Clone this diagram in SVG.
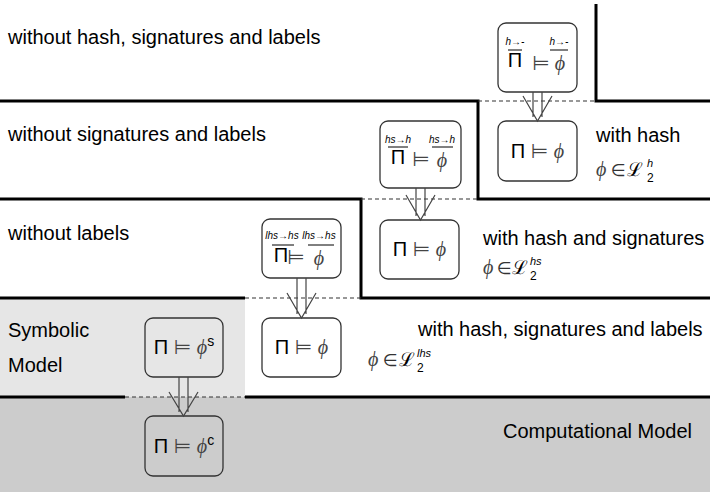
<svg xmlns="http://www.w3.org/2000/svg" width="710" height="492" viewBox="0 0 710 492">
<style>
.lbl{font-family:"Liberation Sans",Arial,sans-serif;font-size:20px;fill:#000}
.thick{stroke:#000;stroke-width:3;fill:none}
.dash{stroke:#333;stroke-width:1.2;stroke-dasharray:4,3;fill:none}
.box{fill:none;stroke:#333;stroke-width:1.3}
.m{font-family:"Liberation Sans",Arial,sans-serif;font-size:20px;fill:#000}
.phi{font-family:"Liberation Serif",serif;font-style:italic;fill:#444}
.ent{font-family:"DejaVu Sans",sans-serif;fill:#444}
.in{font-family:"DejaVu Sans",sans-serif;font-size:17px;fill:#333}
.cal{font-family:"DejaVu Serif",serif;font-size:19px;fill:#000}
.sup{font-family:"Liberation Sans",Arial,sans-serif;font-style:italic;font-size:11px;fill:#000}
.sub{font-family:"Liberation Sans",Arial,sans-serif;font-size:12px;fill:#000}
.tiny{font-family:"Liberation Sans",Arial,sans-serif;font-style:italic;font-size:10px;fill:#000;text-anchor:middle}
.bar{stroke:#000;stroke-width:1}
.arr{stroke:#444;stroke-width:1.2;fill:none}
</style>
<rect x="0" y="298" width="245" height="99" fill="#e6e6e6"/>
<rect x="0" y="397" width="710" height="95" fill="#cccccc"/>
<g id="layers">
<path class="thick" d="M596,4 V101 H710"/>
<path class="thick" d="M0,101 H478 V199 H710"/>
<path class="thick" d="M0,199 H361 V298 H710"/>
<path class="thick" d="M0,298 H245"/>
<path class="thick" d="M0,397 H125 M245,397 H710"/>
<path class="dash" d="M478,101 H596 M361,199 H478 M245,298 H361 M125,397 H245"/>
</g>
<g id="labels">
<text class="lbl" x="8" y="44">without hash, signatures and labels</text>
<text class="lbl" x="8" y="141">without signatures and labels</text>
<text class="lbl" x="8" y="240">without labels</text>
<text class="lbl" x="8" y="337">Symbolic</text>
<text class="lbl" x="8" y="372">Model</text>
<text class="lbl" x="692" y="438" text-anchor="end">Computational Model</text>
<text class="lbl" x="596" y="142">with hash</text>
<text class="lbl" x="483" y="245">with hash and signatures</text>
<text class="lbl" x="418" y="336">with hash, signatures and labels</text>
</g>
<g id="sets">
<text class="m phi" x="596" y="176">ϕ</text>
<text class="in" x="611" y="176">∈</text>
<text class="cal" x="627" y="176">ℒ</text>
<text class="sup" x="647" y="167">h</text>
<text class="sub" x="647" y="182">2</text>
<text class="m phi" x="483" y="274">ϕ</text>
<text class="in" x="497" y="274">∈</text>
<text class="cal" x="512" y="274">ℒ</text>
<text class="sup" x="530" y="265">hs</text>
<text class="sub" x="530" y="280">2</text>
<text class="m phi" x="368" y="366">ϕ</text>
<text class="in" x="383" y="366">∈</text>
<text class="cal" x="399" y="366">ℒ</text>
<text class="sup" x="417" y="357">lhs</text>
<text class="sub" x="417" y="372">2</text>
</g>
<g id="n1">
<rect class="box" x="498" y="23" width="79" height="69" rx="8"/>
<text class="tiny" x="515" y="45">h→-</text>
<line class="bar" x1="508" y1="50" x2="522" y2="50"/>
<text class="m" x="515" y="67" text-anchor="middle">Π</text>
<text class="m ent" x="541" y="70" text-anchor="middle">⊨</text>
<text class="tiny" x="559" y="45">h→-</text>
<line class="bar" x1="550" y1="50" x2="568" y2="50"/>
<text class="m phi" x="560" y="70" text-anchor="middle">ϕ</text>
</g>
<g id="n2">
<rect class="box" x="498" y="121" width="79" height="60" rx="8"/>
<text class="m" x="537.5" y="158" text-anchor="middle">Π <tspan class="ent">⊨</tspan> <tspan class="phi">ϕ</tspan></text>
</g>
<g id="n3">
<rect class="box" x="380" y="121" width="81" height="67" rx="8"/>
<text class="tiny" x="398" y="143">hs→h</text>
<line class="bar" x1="388" y1="147" x2="408" y2="147"/>
<text class="m" x="398" y="164" text-anchor="middle">Π</text>
<text class="m ent" x="421" y="166" text-anchor="middle">⊨</text>
<text class="tiny" x="442" y="143">hs→h</text>
<line class="bar" x1="432" y1="147" x2="453" y2="147"/>
<text class="m phi" x="442" y="167" text-anchor="middle">ϕ</text>
</g>
<g id="n4">
<rect class="box" x="380" y="220" width="79" height="59" rx="8"/>
<text class="m" x="419.5" y="256" text-anchor="middle">Π <tspan class="ent">⊨</tspan> <tspan class="phi">ϕ</tspan></text>
</g>
<g id="n5">
<rect class="box" x="262" y="219" width="79" height="59" rx="8"/>
<text class="tiny" x="282" y="239">lhs→hs</text>
<line class="bar" x1="272" y1="245" x2="294" y2="245"/>
<text class="m" x="281" y="262" text-anchor="middle">Π</text>
<text class="m ent" x="296" y="264" text-anchor="middle">⊨</text>
<text class="tiny" x="319" y="239">lhs→hs</text>
<line class="bar" x1="308" y1="245" x2="334" y2="245"/>
<text class="m phi" x="319" y="265" text-anchor="middle">ϕ</text>
</g>
<g id="n6">
<rect class="box" x="262" y="318" width="79" height="59" rx="8"/>
<text class="m" x="301.5" y="354" text-anchor="middle">Π <tspan class="ent">⊨</tspan> <tspan class="phi">ϕ</tspan></text>
</g>
<g id="n7">
<rect class="box" x="145" y="318" width="78" height="59" rx="8"/>
<text class="m" x="184" y="354" text-anchor="middle">Π <tspan class="ent">⊨</tspan> <tspan class="phi">ϕ</tspan><tspan style="font-size:14px" dy="-8">s</tspan></text>
</g>
<g id="n8">
<rect class="box" x="145" y="416" width="78" height="60" rx="8"/>
<text class="m" x="184" y="453" text-anchor="middle">Π <tspan class="ent">⊨</tspan> <tspan class="phi">ϕ</tspan><tspan style="font-size:14px" dy="-8">c</tspan></text>
</g>
<g id="connectors">
<path class="arr" d="M533,92 V117 M542,92 V117 M523,96 L537.5,121 L552,96"/>
<path class="arr" d="M416,188 V216 M425,188 V216 M406,195 L420.5,220 L435,195"/>
<path class="arr" d="M297,278 V314 M306,278 V314 M287,293 L301.5,318 L316,293"/>
<path class="arr" d="M179,377 V412 M188,377 V412 M169,392 L183.5,416 L198,392"/>
</g>
</svg>
